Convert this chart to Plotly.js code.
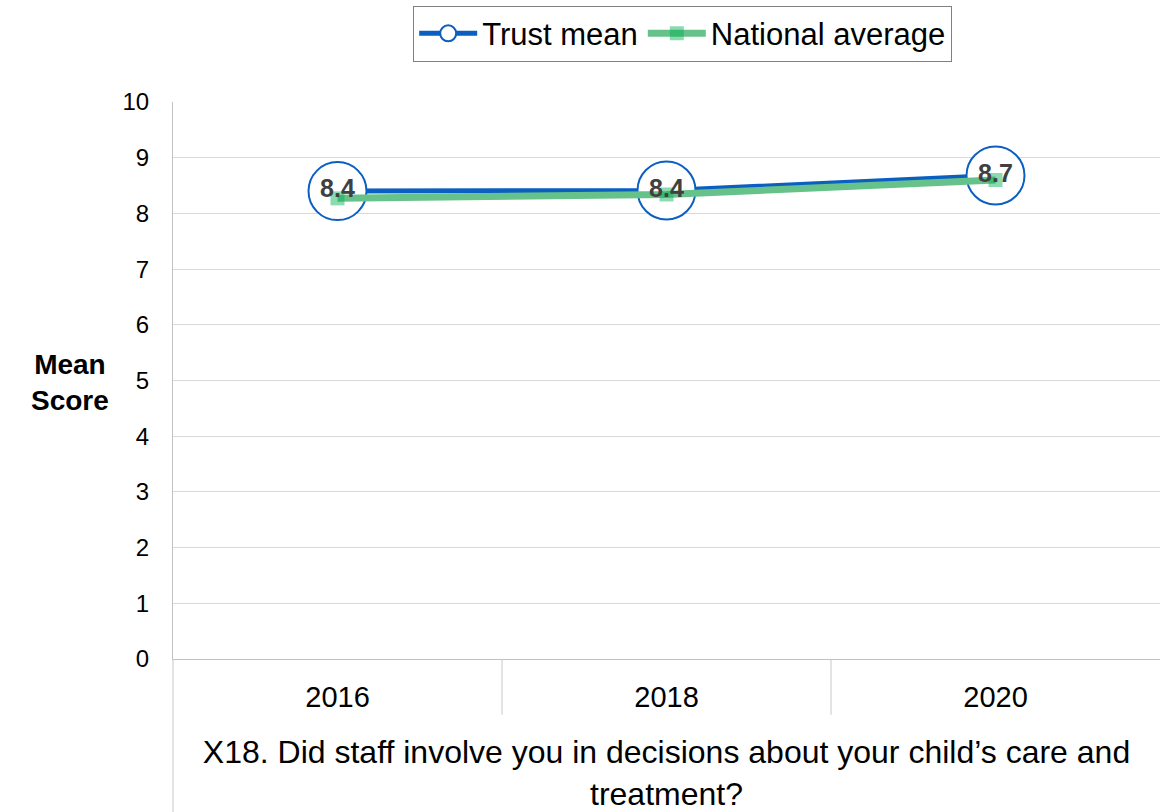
<!DOCTYPE html>
<html><head><meta charset="utf-8">
<script src="https://cdn.plot.ly/plotly-3.0.1.min.js"></script>
<style>body{margin:0;padding:0;background:#fff}#c{width:1163px;height:812px}</style>
</head><body><div id="c"></div>
<script>
const years = ["2016", "2018", "2020"];
const trustMean = [8.40, 8.41, 8.68];
const nationalAvg = [8.27, 8.34, 8.60];
const trustLabels = ["8.4", "8.4", "8.7"];
const question = "X18. Did staff involve you in decisions about your child’s care and<br>treatment?";
const yTicks = [0,1,2,3,4,5,6,7,8,9,10];

const FONT = "Liberation Sans, Arial, sans-serif";
const traces = [
  {x: years, y: trustMean, name: "Trust mean", mode: "lines+markers", type: "scatter",
   line: {color: "#0a5fc0", width: 5},
   marker: {symbol: "circle", size: 58, color: "#ffffff", line: {color: "#0a5fc0", width: 2}}},
  {x: years, y: nationalAvg, name: "National average", mode: "lines+markers", type: "scatter",
   line: {color: "#66c28a", width: 7},
   marker: {symbol: "square", size: 14, color: "#00b050", opacity: 0.45}},
  {x: years, y: trustMean, text: trustLabels, mode: "text", type: "scatter", showlegend: false,
   textposition: "middle center", hoverinfo: "skip",
   textfont: {family: FONT, size: 25, color: "#404040", weight: "bold"}}
];
const layout = {
  width: 1163, height: 812,
  margin: {l: 173, r: 3, t: 102, b: 153},
  paper_bgcolor: "#fff", plot_bgcolor: "#fff",
  font: {family: FONT, color: "#000"},
  showlegend: true,
  legend: {orientation: "h", xref: "container", yref: "container", x: 0.587, y: 0.993,
    xanchor: "center", yanchor: "top", bordercolor: "#808080", borderwidth: 1,
    itemwidth: 58, font: {family: FONT, size: 31, color: "#000"}, tracegroupgap: 0},
  xaxis: {type: "category", range: [-0.5, 2.5], showgrid: false, zeroline: false,
    showline: true, linecolor: "#c0c0c0", linewidth: 1,
    ticks: "", ticklabelstandoff: 12, tickfont: {family: FONT, size: 29, color: "#000"},
    automargin: false,
    title: {text: question, font: {family: FONT, size: 32, color: "#000"}, standoff: 30}},
  yaxis: {range: [0, 10], tickvals: yTicks, showgrid: true, gridcolor: "#d9d9d9", gridwidth: 1,
    zeroline: false, showline: true, linecolor: "#c0c0c0", linewidth: 1,
    ticks: "", tickfont: {family: FONT, size: 24, color: "#000"}, ticklabelstandoff: 18, automargin: false},
  shapes: [
    {type: "line", xref: "x", yref: "paper", x0: 0.5, x1: 0.5, y0: 0, y1: -0.1, line: {color: "#c8c8c8", width: 1}},
    {type: "line", xref: "x", yref: "paper", x0: 1.5, x1: 1.5, y0: 0, y1: -0.1, line: {color: "#c8c8c8", width: 1}},
    {type: "line", xref: "paper", yref: "paper", x0: 0, x1: 0, y0: 0, y1: -0.28, line: {color: "#c8c8c8", width: 1}}
  ],
  annotations: [
    {text: "<b>Mean<br>Score</b>", xref: "paper", yref: "paper", x: -0.104, y: 0.497, xanchor: "center", yanchor: "middle",
     showarrow: false, font: {family: FONT, size: 28, color: "#000"}}
  ]
};
Plotly.newPlot("c", traces, layout, {displayModeBar: false, staticPlot: true});
</script></body></html>
